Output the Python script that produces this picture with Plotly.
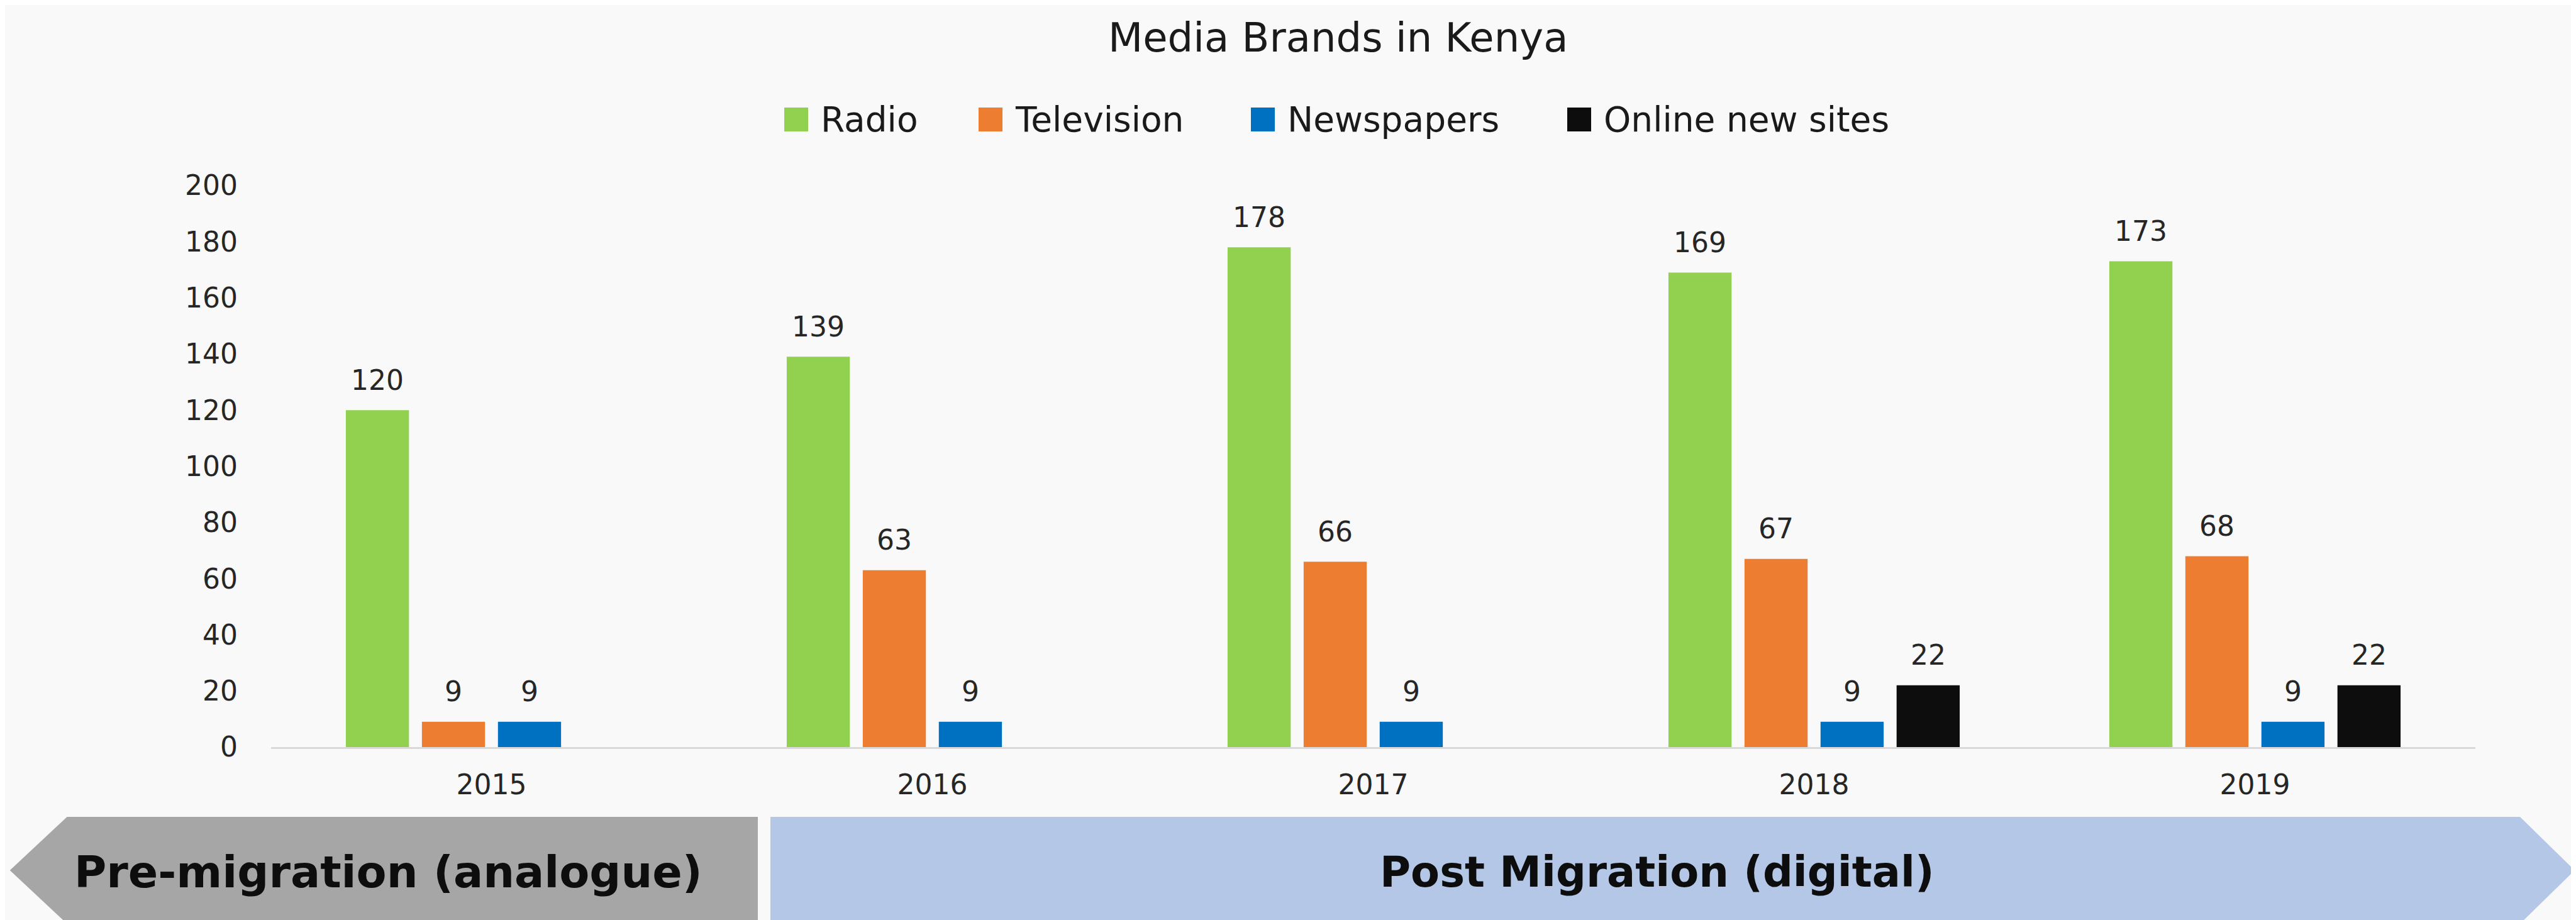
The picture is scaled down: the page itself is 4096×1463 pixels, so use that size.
import plotly.graph_objects as go

# ---------------- data ----------------
years = ["2015", "2016", "2017", "2018", "2019"]
series_names = ["Radio", "Television", "Newspapers", "Online new sites"]
radio = [120, 139, 178, 169, 173]
television = [9, 63, 66, 67, 68]
newspapers = [9, 9, 9, 9, 9]
online = [None, None, None, 22, 22]
series_values = [radio, television, newspapers, online]
series_colors = ["#92D050", "#ED7D31", "#0070C0", "#0D0D0D"]

title_text = "Media Brands in Kenya"
phase_labels = ["Pre-migration (analogue)", "Post Migration (digital)"]
phase_colors = ["#A6A6A6", "#B4C7E7"]
y_ticks = list(range(0, 201, 20))

# ---------------- layout constants ----------------
W, H = 4096, 1463
ML, MR, MT, MB = 423, 168, 287, 283
PW = W - ML - MR
PH = H - MT - MB
BARGAP = 0.31
BARGROUPGAP = 0.17
FONT = "DejaVu Sans"
TXT = "#262626"


def px(xp):
    return (xp - ML) / PW


def py(yp):
    return (H - MB - yp) / PH


fig = go.Figure()
for name, vals, col in zip(series_names, series_values, series_colors):
    fig.add_trace(go.Bar(
        x=years, y=vals, name=name, marker=dict(color=col, line=dict(width=0)),
        showlegend=False, hoverinfo="x+y+name",
    ))

annotations = []
n = len(series_names)
slot = (1 - BARGAP) / n
for j, vals in enumerate(series_values):
    for i, v in enumerate(vals):
        if v is None:
            continue
        annotations.append(dict(
            x=i - (1 - BARGAP) / 2 + slot * (j + 0.5), y=v, xref="x", yref="y",
            text=str(v), showarrow=False, yanchor="middle", yshift=48,
            font=dict(family=FONT, size=44, color=TXT),
        ))

# title
annotations.append(dict(
    x=px(2119), y=py(52), xref="paper", yref="paper", text=title_text,
    showarrow=False, xanchor="center", yanchor="middle",
    font=dict(family=FONT, size=64, color="#1A1A1A"),
))

# manual legend (large square markers)
shapes = []
LEG_X = [1239, 1548, 1981, 2484]
LEG_Y = 182
MS = 38
for name, col, lx in zip(series_names, series_colors, LEG_X):
    shapes.append(dict(type="rect", xref="paper", yref="paper",
                       x0=px(lx), x1=px(lx + MS), y0=py(LEG_Y + MS / 2), y1=py(LEG_Y - MS / 2),
                       fillcolor=col, line=dict(width=0)))
    annotations.append(dict(
        x=px(lx + MS + 18), y=py(LEG_Y), xref="paper", yref="paper", text=name,
        showarrow=False, xanchor="left", yanchor="middle",
        font=dict(family=FONT, size=55, color="#1A1A1A"),
    ))

# phase arrows
top, mid, bot = 1291, 1376, 1461
grey = [(98.6, top), (1197, top), (1197, bot), (98.6, bot), (7.7, mid)]
blue = [(1217, top), (3999, top), (4086, mid), (3999, bot), (1217, bot)]
for poly, col in zip([grey, blue], phase_colors):
    path = "M " + " L ".join(f"{px(a):.5f},{py(b):.5f}" for a, b in poly) + " Z"
    shapes.append(dict(type="path", xref="paper", yref="paper", path=path,
                       fillcolor=col, line=dict(width=0), layer="below"))

for label, cx, fs in zip(phase_labels, [609, 2627], [70, 67]):
    annotations.append(dict(
        x=px(cx), y=py(1379), xref="paper", yref="paper", text=f"<b>{label}</b>",
        showarrow=False, xanchor="center", yanchor="middle",
        font=dict(family=FONT, size=fs, color="#0D0D0D"),
    ))

fig.update_layout(
    width=W, height=H,
    margin=dict(l=ML, r=MR, t=MT, b=MB, pad=0),
    paper_bgcolor="#F9F9F9", plot_bgcolor="rgba(0,0,0,0)",
    barmode="group", bargap=BARGAP, bargroupgap=BARGROUPGAP,
    showlegend=False,
    annotations=annotations, shapes=shapes,
    xaxis=dict(type="category", showline=True, linecolor="#D9D9D9", linewidth=3,
               ticks="", showgrid=False, zeroline=False, ticklabelstandoff=19,
               tickfont=dict(family=FONT, size=44, color=TXT)),
    yaxis=dict(range=[0, 200], tickvals=y_ticks, showgrid=False, zeroline=False,
               showline=False, ticks="", ticklabelstandoff=52,
               tickfont=dict(family=FONT, size=44, color=TXT)),
)

fig.write_html("out.html")
